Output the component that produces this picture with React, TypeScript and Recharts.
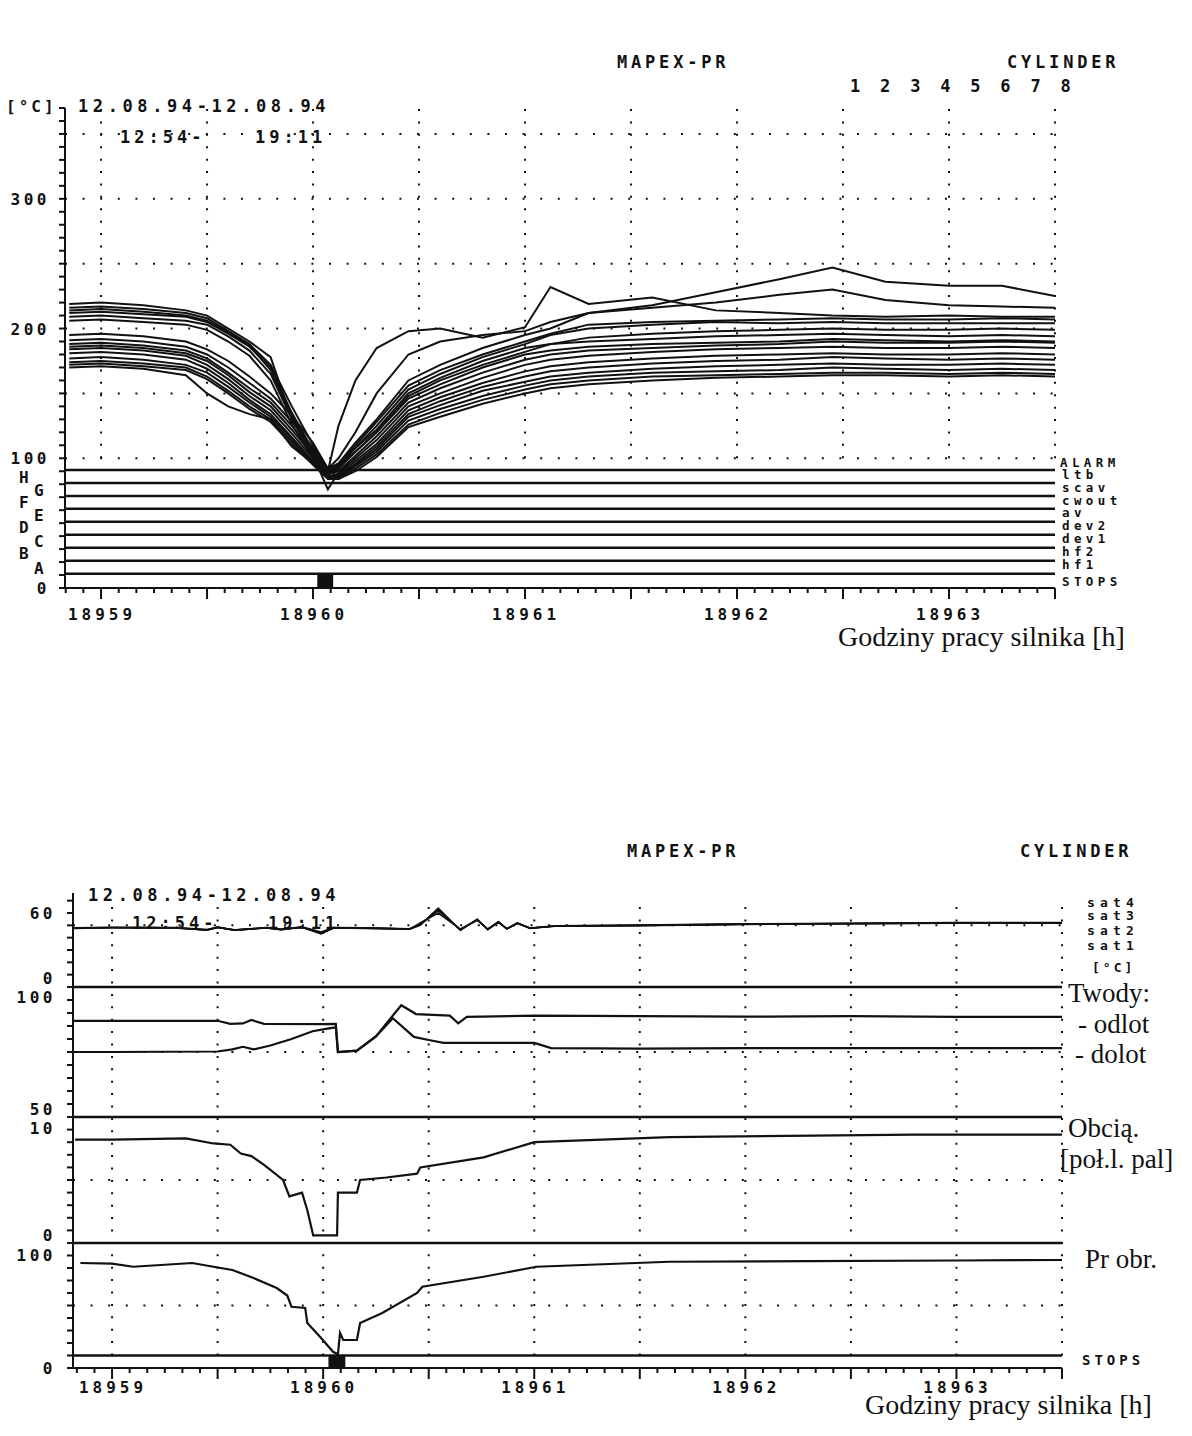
import React from 'react';
import { LineChart, Line, XAxis, YAxis, ReferenceLine, ReferenceArea } from 'recharts';

const MONO = "'DejaVu Sans Mono', 'Liberation Mono', monospace";
const SERIF = "'Liberation Serif', 'DejaVu Serif', serif";
const INK = '#111';

// ---- shared time axis (engine running hours) ----
const halfHours = [18959, 18959.5, 18960, 18960.5, 18961, 18961.5, 18962, 18962.5, 18963, 18963.5];
const hourLabels = [18959, 18960, 18961, 18962, 18963];
const fiveMinTicks = Array.from({ length: 57 }, (_, k) => 18958 + (50 + 5 * k) / 60);

// ---- upper chart: cylinder temperatures [°C] ----
const tempHours = [18958.85, 18959.0, 18959.2, 18959.4, 18959.5, 18959.6, 18959.7, 18959.8, 18959.9, 18960.0,
  18960.07, 18960.12, 18960.2, 18960.3, 18960.45, 18960.6, 18960.8, 18961.0, 18961.12, 18961.3,
  18961.6, 18961.9, 18962.2, 18962.45, 18962.7, 18963.0, 18963.25, 18963.5];
const t01 = [219, 220, 218, 214, 210, 200, 190, 178, 130, 104, 90, 125, 160, 185, 198, 200, 193, 201, 232, 219, 224, 214, 212, 210, 209, 210, 209, 209];
const t02 = [216, 217, 215, 212, 208, 198, 188, 172, 140, 110, 92, 100, 120, 150, 180, 190, 195, 198, 205, 212, 218, 228, 238, 247, 236, 233, 233, 225];
const t03 = [212, 213, 211, 209, 205, 196, 186, 170, 135, 106, 90, 96, 112, 130, 160, 172, 185, 195, 200, 212, 216, 220, 226, 230, 222, 218, 217, 216];
const t04 = [209, 210, 208, 206, 203, 194, 183, 165, 130, 102, 88, 93, 108, 125, 153, 165, 178, 188, 195, 200, 203, 205, 204, 205, 204, 204, 204, 204];
const t05 = [206, 207, 205, 203, 199, 190, 179, 160, 126, 100, 87, 92, 105, 120, 148, 160, 172, 182, 188, 193, 196, 198, 199, 200, 199, 199, 200, 199];
const t06 = [195, 196, 194, 190, 184, 175, 163, 150, 133, 112, 92, 96, 108, 122, 150, 162, 175, 185, 188, 190, 192, 194, 195, 196, 195, 194, 195, 194];
const t07 = [191, 192, 190, 186, 180, 170, 158, 146, 128, 108, 90, 94, 105, 120, 146, 157, 170, 180, 183, 186, 188, 189, 190, 192, 191, 190, 191, 190];
const t08 = [188, 189, 187, 183, 177, 166, 154, 143, 125, 105, 88, 90, 102, 117, 143, 154, 166, 176, 180, 183, 185, 187, 188, 190, 189, 189, 190, 189];
const t09 = [186, 187, 185, 181, 175, 164, 151, 140, 122, 102, 76, 89, 100, 114, 140, 150, 162, 172, 176, 179, 182, 184, 185, 186, 185, 185, 186, 185];
const t10 = [184, 185, 183, 179, 172, 161, 148, 137, 119, 100, 86, 88, 98, 111, 137, 147, 158, 167, 171, 174, 177, 179, 180, 181, 180, 180, 181, 180];
const t11 = [181, 182, 180, 176, 169, 158, 145, 134, 116, 98, 85, 87, 96, 109, 134, 144, 155, 163, 167, 170, 173, 175, 176, 178, 177, 176, 177, 176];
const t12 = [177, 178, 176, 172, 166, 155, 143, 132, 115, 97, 86, 86, 95, 107, 132, 141, 152, 159, 163, 166, 169, 171, 172, 173, 172, 172, 173, 172];
const t13 = [174, 175, 173, 170, 163, 152, 140, 130, 113, 96, 85, 85, 94, 105, 129, 138, 148, 156, 160, 163, 166, 167, 168, 170, 169, 168, 169, 168];
const t14 = [172, 173, 171, 168, 161, 150, 138, 128, 111, 95, 84, 84, 92, 103, 126, 135, 145, 153, 157, 160, 163, 164, 165, 166, 166, 165, 166, 165];
const t15 = [170, 171, 169, 164, 150, 140, 134, 130, 109, 96, 93, 84, 90, 101, 124, 132, 142, 150, 154, 157, 160, 162, 163, 164, 164, 163, 164, 163];
const t16 = [214, 215, 213, 210, 206, 197, 187, 168, 132, 105, 89, 95, 110, 128, 156, 168, 180, 190, 196, 203, 205, 206, 207, 208, 207, 207, 208, 207];
const tempSeries = { t01, t02, t03, t04, t05, t06, t07, t08, t09, t10, t11, t12, t13, t14, t15, t16 };

const statusLevels = [91, 81, 71, 61, 51, 41, 31, 21, 11];
const tempGridY = [100, 150, 200, 250, 300, 350];
const tempTicks = Array.from({ length: 38 }, (_, k) => k * 10);
const tempTickLabels: Record<number, [string, number][]> = { 0: [['0', 0]], 100: [['100', 0]], 200: [['200', 0]], 300: [['300', 0]] };
const stopWindow = [18960.02, 18960.095];

// ---- lower chart ----
const satHours = [18958.82, 18959.0, 18959.3, 18959.45, 18959.5, 18959.58, 18959.73, 18959.8, 18959.9, 18959.99,
  18960.05, 18960.2, 18960.41, 18960.46, 18960.545, 18960.65, 18960.73, 18960.78, 18960.83, 18960.87,
  18960.92, 18960.98, 18961.1, 18961.5, 18962.0, 18962.5, 18963.0, 18963.5];
const sat1 = [47.8, 48.2, 48.0, 46.0, 48.5, 46.0, 48.0, 46.5, 48.5, 43.0, 48.0, 47.8, 47.0, 50.0, 64.0, 46.0, 55.0, 46.5, 53.0, 47.0, 52.0, 47.5, 49.5, 50.0, 51.0, 51.5, 52.0, 52.0];
const sat2 = [47.5, 48.0, 47.8, 46.3, 48.2, 46.3, 47.8, 46.8, 48.2, 44.0, 47.8, 47.5, 46.8, 52.0, 60.0, 47.0, 54.0, 47.0, 52.5, 47.3, 51.5, 47.8, 49.3, 49.8, 50.8, 51.3, 51.8, 51.8];
const sat3 = [48.0, 48.4, 48.2, 46.5, 48.6, 46.2, 48.2, 46.7, 48.7, 44.5, 48.2, 48.0, 47.2, 51.0, 62.0, 46.5, 54.5, 46.8, 52.8, 47.2, 51.8, 47.7, 49.7, 50.2, 51.2, 51.7, 52.2, 52.2];
const sat4 = [47.6, 48.1, 47.9, 46.2, 48.3, 46.1, 47.9, 46.4, 48.4, 43.5, 47.9, 47.7, 46.9, 50.5, 63.0, 46.3, 54.8, 46.6, 52.7, 47.1, 51.7, 47.6, 49.4, 49.9, 50.9, 51.4, 51.9, 51.9];

const odlotHours = [18958.82, 18959.5, 18959.56, 18959.62, 18959.66, 18959.72, 18960.0, 18960.06, 18960.07, 18960.16, 18960.25,
  18960.37, 18960.44, 18960.6, 18960.64, 18960.68, 18961.0, 18961.5, 18962.0, 18962.5, 18963.0, 18963.5];
const odlot = [87.0, 87.0, 85.8, 86.0, 87.3, 85.8, 85.7, 85.8, 75.0, 75.5, 81.0, 93.0, 89.6, 89.0, 86.0, 88.5, 89.0, 88.8, 88.6, 88.8, 88.5, 88.5];
const dolotHours = [18958.82, 18959.0, 18959.5, 18959.57, 18959.62, 18959.67, 18959.75, 18959.85, 18959.95, 18960.02, 18960.06,
  18960.07, 18960.16, 18960.25, 18960.33, 18960.43, 18960.5, 18960.57, 18961.0, 18961.08, 18961.5, 18962.0, 18962.5, 18963.0, 18963.5];
const dolot = [75.0, 75.0, 75.2, 76.0, 77.0, 76.0, 77.5, 80.0, 83.0, 84.0, 84.5, 75.0, 75.5, 81.0, 88.0, 80.8, 79.6, 78.5, 78.5, 76.5, 76.3, 76.5, 76.5, 76.5, 76.5];

const loadHours = [18958.825, 18959.0, 18959.35, 18959.48, 18959.56, 18959.61, 18959.66, 18959.72, 18959.75, 18959.81,
  18959.84, 18959.9, 18959.925, 18959.953, 18960.066, 18960.07, 18960.16, 18960.175, 18960.3, 18960.445,
  18960.46, 18960.76, 18961.0, 18961.64, 18962.2, 18962.8, 18963.5];
const load = [8.2, 8.2, 8.3, 7.9, 7.8, 7.1, 6.9, 6.2, 5.8, 5.0, 3.7, 4.0, 2.6, 0.6, 0.6, 4.0, 4.0, 5.0, 5.2, 5.5, 6.0, 6.8, 8.0, 8.4, 8.5, 8.6, 8.6];

const rpmHours = [18958.85, 18959.0, 18959.1, 18959.38, 18959.48, 18959.57, 18959.67, 18959.78, 18959.83, 18959.85,
  18959.915, 18959.925, 18959.985, 18960.047, 18960.07, 18960.08, 18960.095, 18960.16, 18960.175, 18960.28,
  18960.445, 18960.47, 18960.76, 18961.01, 18961.64, 18962.3, 18963.0, 18963.5];
const rpm = [84, 83.5, 81, 84, 81, 78.4, 72, 64, 58, 49, 48, 36, 25, 13, 11, 28, 22.4, 22.4, 36, 44, 60, 65, 73, 81, 85, 85.5, 86, 86.4];

// panel layout of lower plot (page pixels)
const LOW_TOP = 893;
const LOW_BOTTOM = 1368;
const FRAME_H = LOW_BOTTOM - LOW_TOP;
function panelDomain(vTop: number, yTop: number, vBot: number, yBot: number): [number, number] {
  const k = (yBot - yTop) / (vTop - vBot);
  return [vBot - (LOW_BOTTOM - yBot) / k, vTop + (yTop - LOW_TOP) / k];
}
const satDomain = panelDomain(60, 913, 0, 987);
const waterDomain = panelDomain(100, 987, 50, 1117);
const loadDomain = panelDomain(10, 1117, 0, 1243);
const rpmDomain = panelDomain(100, 1243, 0, 1368);

const lowPanels: { domain: [number, number]; ticks: number[]; labels: Record<number, [string, number]> }[] = [
  { domain: satDomain, ticks: [0, 10, 20, 30, 40, 50, 60, 70], labels: { 60: ['60', 0], 0: ['0', -9] } },
  { domain: waterDomain, ticks: [50, 55, 60, 65, 70, 75, 80, 85, 90, 95, 100], labels: { 100: ['100', 10], 50: ['50', -8] } },
  { domain: loadDomain, ticks: [1, 2, 3, 4, 5, 6, 7, 8, 9, 10], labels: { 10: ['10', 11], 0: ['0', -8] } },
  { domain: rpmDomain, ticks: [0, 10, 20, 30, 40, 50, 60, 70, 80, 90, 100], labels: { 100: ['100', 12], 0: ['0', 0] } },
];
// ticks of the lower frame axis, expressed in frame units (0..FRAME_H)
const frameTicks: number[] = [];
const frameLabels: Record<number, [string, number][]> = {};
lowPanels.forEach((p) => {
  const vals = Array.from(new Set([...p.ticks, ...Object.keys(p.labels).map(Number)]));
  vals.forEach((v) => {
    const pos = Math.round(((v - p.domain[0]) / (p.domain[1] - p.domain[0])) * FRAME_H * 100) / 100;
    if (!frameTicks.includes(pos)) frameTicks.push(pos);
    const lab = p.labels[v];
    if (lab) (frameLabels[pos] = frameLabels[pos] || []).push(lab);
  });
});

const toRows = (hours: number[], vals: number[]) => hours.map((h, i) => ({ h, v: vals[i] }));

const mono = (size: number, ls: number): React.CSSProperties => ({
  fontFamily: MONO, fontWeight: 700, fontSize: size, letterSpacing: `${ls}px`, fill: INK,
});
const serif = (size: number): React.CSSProperties => ({ fontFamily: SERIF, fontSize: size, fill: INK });

function makeXTick(labelDy: number) {
  return (props: any) => {
    const { x, y, payload } = props;
    const v = payload.value as number;
    const half = halfHours.some((h) => Math.abs(h - v) < 1e-4);
    const hour = hourLabels.find((h) => Math.abs(h - v) < 1e-4);
    return (
      <g>
        <line x1={x} x2={x} y1={y} y2={y + (half ? 11 : 5)} stroke={INK} strokeWidth={2} />
        {hour !== undefined && (
          <text x={x + 1} y={y + labelDy} textAnchor="middle" style={mono(16, 4)}>{hour}</text>
        )}
      </g>
    );
  };
}

function makeYTick(labels: Record<number, [string, number][]>, gap: number) {
  return (props: any) => {
    const { x, y, payload } = props;
    const labs = labels[payload.value] || [];
    return (
      <g>
        <line x1={x - 6} x2={x} y1={y} y2={y} stroke={INK} strokeWidth={2} />
        {labs.map(([t, dy]) => (
          <text key={t + dy} x={x - gap} y={y + dy + 6} textAnchor="end" style={mono(16, 3.5)}>{t}</text>
        ))}
      </g>
    );
  };
}

const axisLine = { stroke: INK, strokeWidth: 2 };
const dotH = '2 15.6';
const dotV = '2 10.4';

const statusFont = mono(12.5, 4.4);
const texts: { x: number; y: number; t: string; s: React.CSSProperties }[] = [
  { x: 617, y: 68, t: 'MAPEX-PR', s: mono(17, 3.8) },
  { x: 1007, y: 68, t: 'CYLINDER', s: mono(17, 3.8) },
  { x: 850, y: 92, t: '1 2 3 4 5 6 7 8', s: mono(17, 4.8) },
  { x: 6, y: 112, t: '[°C]', s: mono(16, 3) },
  { x: 78, y: 112, t: '12.08.94-12.08.94', s: mono(17, 4.6) },
  { x: 120, y: 143, t: '12:54-', s: mono(17, 4) },
  { x: 255, y: 143, t: '19:11', s: mono(17, 4) },
  { x: 19, y: 483, t: 'H', s: mono(16, 0) },
  { x: 34, y: 496, t: 'G', s: mono(16, 0) },
  { x: 19, y: 508, t: 'F', s: mono(16, 0) },
  { x: 34, y: 521, t: 'E', s: mono(16, 0) },
  { x: 19, y: 533, t: 'D', s: mono(16, 0) },
  { x: 34, y: 547, t: 'C', s: mono(16, 0) },
  { x: 19, y: 559, t: 'B', s: mono(16, 0) },
  { x: 34, y: 574, t: 'A', s: mono(16, 0) },
  { x: 1060, y: 467, t: 'ALARM', s: statusFont },
  { x: 1062, y: 479, t: 'ltb', s: statusFont },
  { x: 1062, y: 492, t: 'scav', s: statusFont },
  { x: 1062, y: 505, t: 'cwout', s: statusFont },
  { x: 1062, y: 517, t: 'av', s: statusFont },
  { x: 1062, y: 530, t: 'dev2', s: statusFont },
  { x: 1062, y: 543, t: 'dev1', s: statusFont },
  { x: 1062, y: 556, t: 'hf2', s: statusFont },
  { x: 1062, y: 569, t: 'hf1', s: statusFont },
  { x: 1062, y: 586, t: 'STOPS', s: statusFont },
  { x: 838, y: 646, t: 'Godziny pracy silnika [h]', s: serif(28) },

  { x: 627, y: 857, t: 'MAPEX-PR', s: mono(17, 3.8) },
  { x: 1020, y: 857, t: 'CYLINDER', s: mono(17, 3.8) },
  { x: 88, y: 901, t: '12.08.94-12.08.94', s: mono(17, 4.6) },
  { x: 132, y: 929, t: '12:54-', s: mono(17, 4) },
  { x: 268, y: 929, t: '19:11', s: mono(17, 4) },
  { x: 1087, y: 907, t: 'sat4', s: mono(13, 5.2) },
  { x: 1087, y: 920, t: 'sat3', s: mono(13, 5.2) },
  { x: 1087, y: 935, t: 'sat2', s: mono(13, 5.2) },
  { x: 1087, y: 950, t: 'sat1', s: mono(13, 5.2) },
  { x: 1092, y: 972, t: '[°C]', s: mono(13, 3) },
  { x: 1068, y: 1002, t: 'Twody:', s: serif(27) },
  { x: 1078, y: 1033, t: '- odlot', s: serif(27) },
  { x: 1075, y: 1063, t: '- dolot', s: serif(27) },
  { x: 1068, y: 1137, t: 'Obcią.', s: serif(27) },
  { x: 1060, y: 1168, t: '[poł.l. pal]', s: serif(27) },
  { x: 1085, y: 1268, t: 'Pr obr.', s: serif(27) },
  { x: 1082, y: 1365, t: 'STOPS', s: mono(14, 4) },
  { x: 865, y: 1414, t: 'Godziny pracy silnika [h]', s: serif(28) },
];

const tempRows = tempHours.map((h, i) => {
  const row: Record<string, number> = { h };
  Object.entries(tempSeries).forEach(([k, vals]) => { row[k] = vals[i]; });
  return row;
});

function TempChart() {
  return (
    <LineChart width={1192} height={700} data={tempRows} margin={{ top: 108, right: 137, bottom: 82, left: 5 }}>
      <XAxis dataKey="h" type="number" domain={[18958.83, 18963.5]} allowDataOverflow ticks={fiveMinTicks} interval={0}
        tick={makeXTick(32)} tickLine={false} tickSize={0} tickMargin={0} height={30} axisLine={axisLine} />
      <YAxis type="number" domain={[0, 370]} allowDataOverflow ticks={tempTicks} interval={0} width={60}
        tick={makeYTick(tempTickLabels, 15)} tickLine={false} tickSize={0} tickMargin={0} axisLine={axisLine} />
      {tempGridY.map((v) => (
        <ReferenceLine key={`gy${v}`} y={v} stroke={INK} strokeWidth={2} strokeDasharray={dotH} />
      ))}
      {halfHours.map((h) => (
        <ReferenceLine key={`gx${h}`} segment={[{ x: h, y: 100 }, { x: h, y: 370 }]} stroke={INK} strokeWidth={2} strokeDasharray={dotV} />
      ))}
      {statusLevels.map((v) => (
        <ReferenceLine key={`st${v}`} y={v} stroke={INK} strokeWidth={2.5} />
      ))}
      <ReferenceArea x1={stopWindow[0]} x2={stopWindow[1]} y1={0} y2={11} fill={INK} fillOpacity={1} stroke="none" />
      {Object.keys(tempSeries).map((k) => (
        <Line key={k} dataKey={k} type="linear" stroke={INK} strokeWidth={2} dot={false} isAnimationActive={false} />
      ))}
    </LineChart>
  );
}

function LowerChart() {
  const hidden = { type: 'number' as const, allowDataOverflow: true, hide: true };
  return (
    <LineChart width={1192} height={656} margin={{ top: 113, right: 130, bottom: 38, left: 13 }}>
      <XAxis dataKey="h" type="number" domain={[18958.815, 18963.5]} allowDataOverflow ticks={fiveMinTicks} interval={0}
        tick={makeXTick(25)} tickLine={false} tickSize={0} tickMargin={0} height={30} axisLine={axisLine} />
      <YAxis yAxisId="frame" type="number" domain={[0, FRAME_H]} allowDataOverflow ticks={frameTicks} interval={0} width={60}
        tick={makeYTick(frameLabels, 17)} tickLine={false} tickSize={0} tickMargin={0} axisLine={axisLine} />
      <YAxis yAxisId="sat" {...hidden} domain={satDomain} />
      <YAxis yAxisId="water" {...hidden} domain={waterDomain} />
      <YAxis yAxisId="load" {...hidden} domain={loadDomain} />
      <YAxis yAxisId="rpm" {...hidden} domain={rpmDomain} />

      <ReferenceLine yAxisId="sat" y={50} stroke={INK} strokeWidth={2} strokeDasharray={dotH} />
      <ReferenceLine yAxisId="water" y={75} stroke={INK} strokeWidth={2} strokeDasharray={dotH} />
      <ReferenceLine yAxisId="load" y={5} stroke={INK} strokeWidth={2} strokeDasharray={dotH} />
      <ReferenceLine yAxisId="rpm" y={50} stroke={INK} strokeWidth={2} strokeDasharray={dotH} />
      {halfHours.map((h) => (
        <ReferenceLine key={`bx${h}`} yAxisId="rpm" segment={[{ x: h, y: 10 }, { x: h, y: rpmDomain[1] - 8 }]}
          stroke={INK} strokeWidth={2} strokeDasharray={dotV} />
      ))}

      <ReferenceLine yAxisId="sat" y={0} stroke={INK} strokeWidth={2.5} />
      <ReferenceLine yAxisId="water" y={50} stroke={INK} strokeWidth={2.5} />
      <ReferenceLine yAxisId="load" y={0} stroke={INK} strokeWidth={2.5} />
      <ReferenceLine yAxisId="rpm" y={10} stroke={INK} strokeWidth={2.5} />
      <ReferenceArea yAxisId="rpm" x1={18960.025} x2={18960.105} y1={0} y2={10.4} fill={INK} fillOpacity={1} stroke="none" />

      {[sat1, sat2, sat3, sat4].map((s, i) => (
        <Line key={`sat${i}`} yAxisId="sat" data={toRows(satHours, s)} dataKey="v" type="linear" stroke={INK}
          strokeWidth={1.6} dot={false} isAnimationActive={false} />
      ))}
      <Line yAxisId="water" data={toRows(odlotHours, odlot)} dataKey="v" type="linear" stroke={INK} strokeWidth={2.2} dot={false} isAnimationActive={false} />
      <Line yAxisId="water" data={toRows(dolotHours, dolot)} dataKey="v" type="linear" stroke={INK} strokeWidth={2.2} dot={false} isAnimationActive={false} />
      <Line yAxisId="load" data={toRows(loadHours, load)} dataKey="v" type="linear" stroke={INK} strokeWidth={2.2} dot={false} isAnimationActive={false} />
      <Line yAxisId="rpm" data={toRows(rpmHours, rpm)} dataKey="v" type="linear" stroke={INK} strokeWidth={2.2} dot={false} isAnimationActive={false} />
    </LineChart>
  );
}

export default function App() {
  return (
    <div style={{ position: 'absolute', left: 0, top: 0, width: 1192, height: 1436, background: '#fff', overflow: 'hidden' }}>
      <div style={{ position: 'absolute', left: 0, top: 0 }}>
        <TempChart />
      </div>
      <div style={{ position: 'absolute', left: 0, top: 780 }}>
        <LowerChart />
      </div>
      <svg width={1192} height={1436} style={{ position: 'absolute', left: 0, top: 0, pointerEvents: 'none' }}>
        {texts.map((d, i) => (
          <text key={i} x={d.x} y={d.y} style={d.s}>{d.t}</text>
        ))}
      </svg>
    </div>
  );
}
